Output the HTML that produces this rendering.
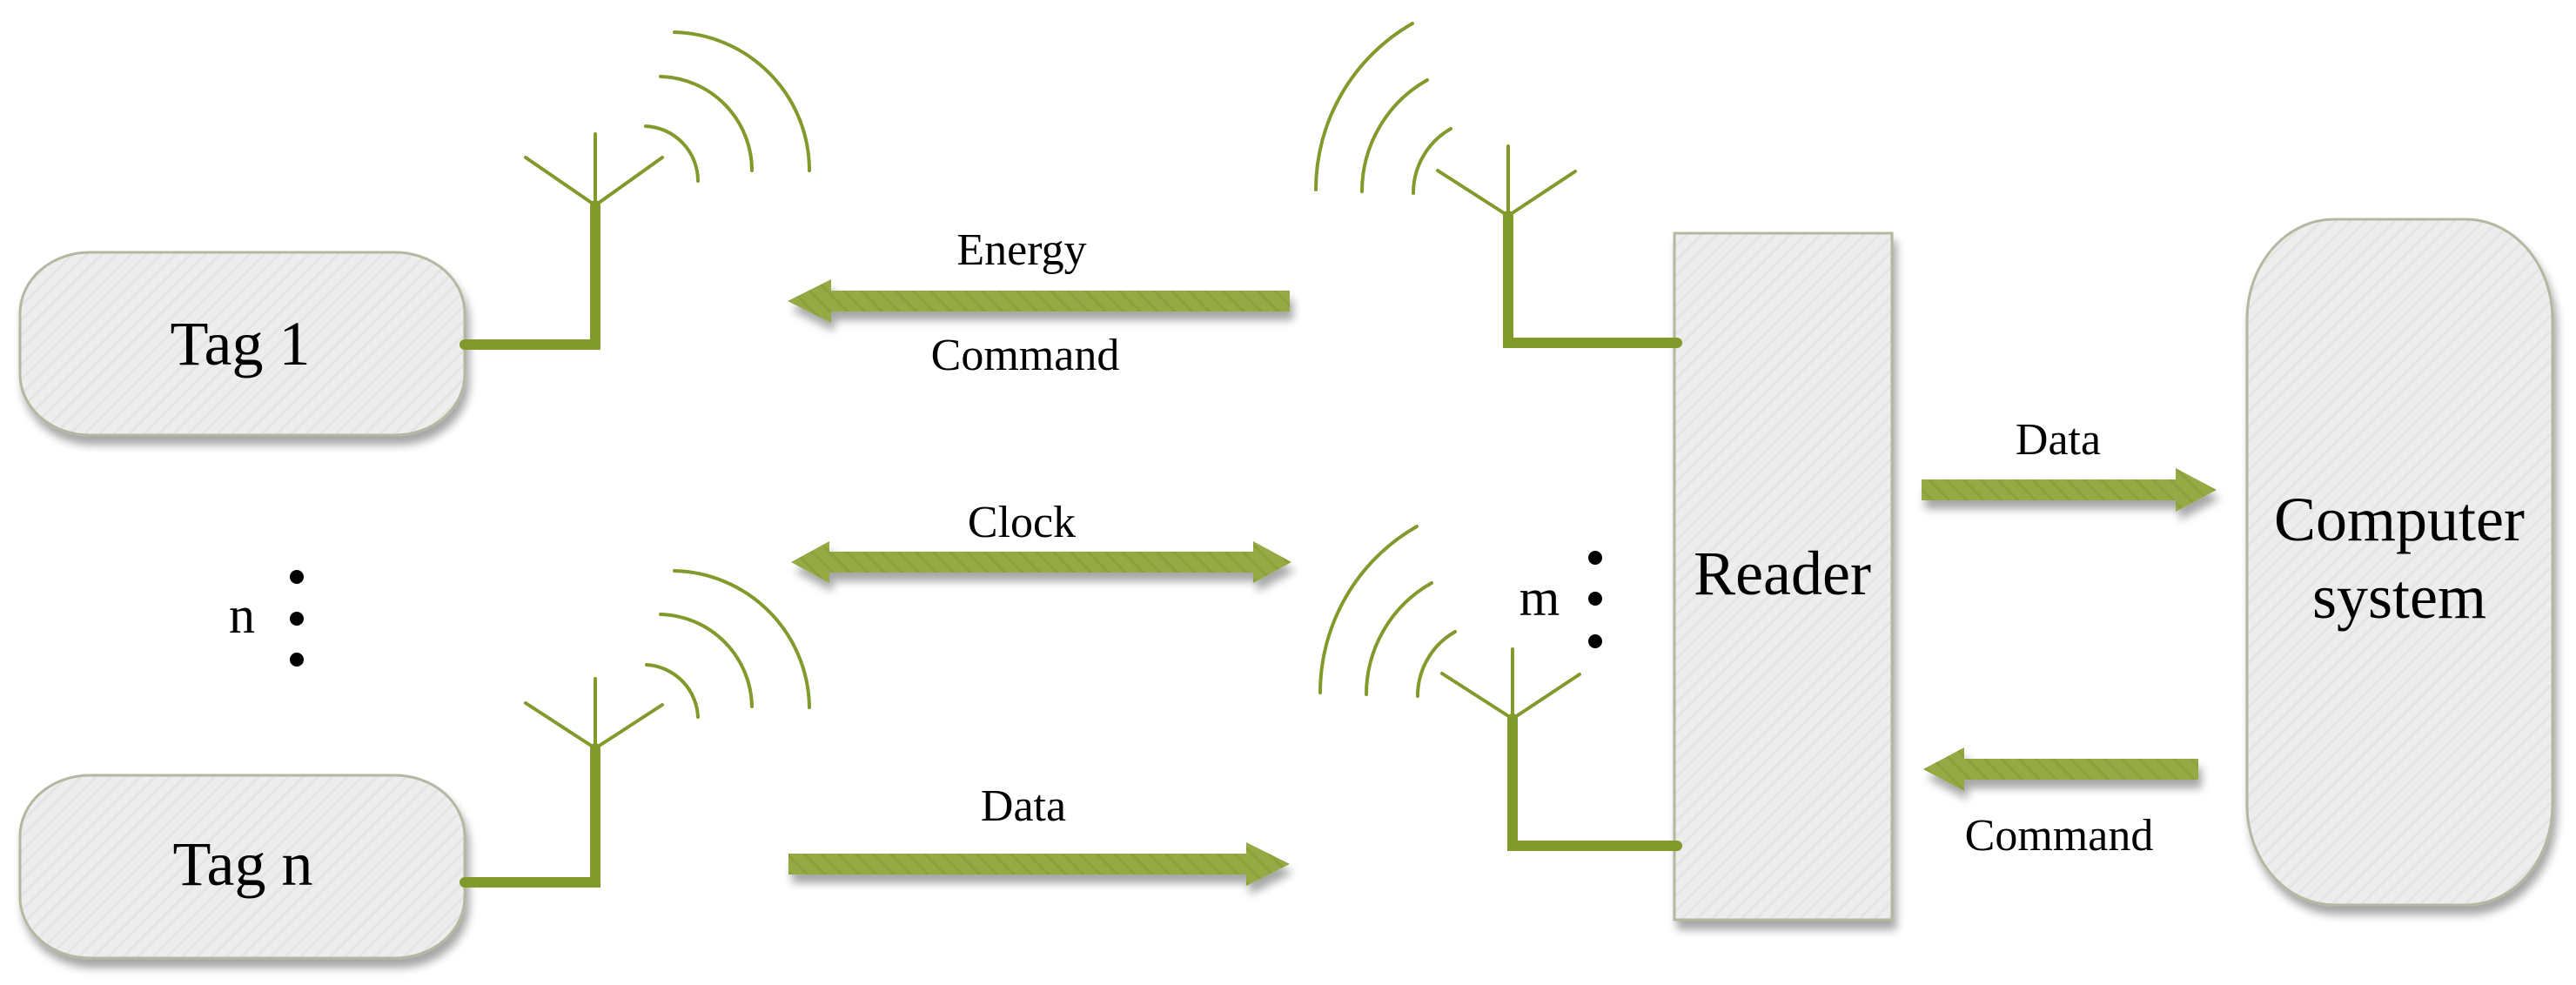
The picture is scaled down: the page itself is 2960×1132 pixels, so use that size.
<!DOCTYPE html>
<html><head><meta charset="utf-8"><style>
html,body{margin:0;padding:0;background:#fff;}
svg{display:block;}
.t{font-family:"Liberation Serif","Times New Roman","DejaVu Serif","Noto Serif CJK SC",serif;}
</style></head><body>
<svg width="2960" height="1132" viewBox="0 0 2960 1132" xmlns="http://www.w3.org/2000/svg">
<defs>
<pattern id="hb" width="12" height="12" patternUnits="userSpaceOnUse" patternTransform="rotate(45)">
<rect width="12" height="12" fill="#ededed"/><rect width="3" height="12" fill="#e4e4e4"/></pattern>
<pattern id="ha" width="14" height="14" patternUnits="userSpaceOnUse" patternTransform="rotate(-45)">
<rect width="14" height="14" fill="#95aa45"/><rect width="3" height="14" fill="#8aa03a"/></pattern>
<filter id="sh" x="-10%" y="-30%" width="130%" height="180%">
<feGaussianBlur in="SourceAlpha" stdDeviation="5"/><feOffset dx="4" dy="10"/>
<feComponentTransfer><feFuncA type="linear" slope="0.35"/></feComponentTransfer>
<feMerge><feMergeNode/><feMergeNode in="SourceGraphic"/></feMerge></filter>
</defs>

<g filter="url(#sh)" stroke="#b4b8a0" stroke-width="3">
<rect x="23" y="290" width="511" height="210" rx="80" ry="70" fill="url(#hb)"/>
<rect x="23" y="891" width="511" height="210" rx="80" ry="70" fill="url(#hb)"/>
<rect x="1924" y="268" width="250" height="789" fill="url(#hb)"/>
<rect x="2582" y="252" width="351" height="788" rx="100" ry="115" fill="url(#hb)"/>
</g>

<g fill="none" stroke="#829a2c" stroke-linecap="round">
<path d="M534 396 H684 V236" stroke-width="12"/>
<path d="M684 236 V154 M684 236 L604 181 M684 236 L761 181" stroke-width="4"/>
<path d="M742 145 A63 63 0 0 1 802 208" stroke-width="4"/>
<path d="M759 88 A108 108 0 0 1 864 196" stroke-width="4"/>
<path d="M775 37 A159 159 0 0 1 930 196" stroke-width="4"/>
<g transform="translate(0,618)">
<path d="M534 396 H684 V242" stroke-width="12"/>
<path d="M684 242 V162 M684 242 L604 190 M684 242 L761 192" stroke-width="4"/>
<path d="M743 146 A63 63 0 0 1 802 206" stroke-width="4"/>
<path d="M759 88 A108 108 0 0 1 864 194" stroke-width="4"/>
<path d="M775 38 A159 159 0 0 1 930 195" stroke-width="4"/>
</g>
<g>
<path d="M1927 394 H1733 V248" stroke-width="12"/>
<path d="M1733 248 V168 M1733 248 L1652 196 M1733 248 L1810 197" stroke-width="4"/>
<path d="M1667 148 A85 85 0 0 0 1624 222" stroke-width="4"/>
<path d="M1640 92 A147 147 0 0 0 1565 220" stroke-width="4"/>
<path d="M1623 27 A220 220 0 0 0 1512 218" stroke-width="4"/>
</g>
<g transform="translate(5,578)">
<path d="M1922 394 H1733 V248" stroke-width="12"/>
<path d="M1733 248 V168 M1733 248 L1652 196 M1733 248 L1810 197" stroke-width="4"/>
<path d="M1667 148 A85 85 0 0 0 1624 222" stroke-width="4"/>
<path d="M1640 92 A147 147 0 0 0 1565 220" stroke-width="4"/>
<path d="M1623 27 A220 220 0 0 0 1512 218" stroke-width="4"/>
</g>
</g>

<g filter="url(#sh)" fill="url(#ha)">
<path d="M905 346 L955 321 V334 H1482 V358 H955 V371 Z"/>
<path d="M909 646 L953 622 V634 H1440 V622 L1484 646 L1440 670 V658 H953 V670 Z"/>
<path d="M906 981 H1432 V968 L1482 993 L1432 1018 V1005 H906 Z"/>
<path d="M2208 551 H2500 V538 L2547 563 L2500 588 V575 H2208 Z"/>
<path d="M2210 884 L2257 859 V872 H2526 V896 H2257 V909 Z"/>
</g>

<g fill="#000">
<circle cx="341" cy="663" r="8"/><circle cx="341" cy="711" r="8"/><circle cx="341" cy="758" r="8"/>
<circle cx="1833" cy="641" r="8"/><circle cx="1833" cy="688" r="8"/><circle cx="1833" cy="737" r="8"/>
</g>

<g text-anchor="middle" fill="#000" class="t">
<text class="t" x="276" y="419" font-size="72">Tag 1</text>
<text class="t" x="279" y="1017" font-size="72">Tag n</text>
<text class="t" x="2048" y="683" font-size="72">Reader</text>
<text class="t" x="2757" y="621" font-size="72">Computer</text>
<text class="t" x="2757" y="710" font-size="72">system</text>
<text class="t" x="278" y="727" font-size="60">n</text>
<text class="t" x="1769" y="707" font-size="60">m</text>
<text class="t" x="1174" y="304" font-size="52">Energy</text>
<text class="t" x="1178" y="425" font-size="52">Command</text>
<text class="t" x="1174" y="617" font-size="52">Clock</text>
<text class="t" x="1176" y="943" font-size="52">Data</text>
<text class="t" x="2365" y="522" font-size="52">Data</text>
<text class="t" x="2366" y="977" font-size="52">Command</text>
</g>
</svg>
</body></html>
